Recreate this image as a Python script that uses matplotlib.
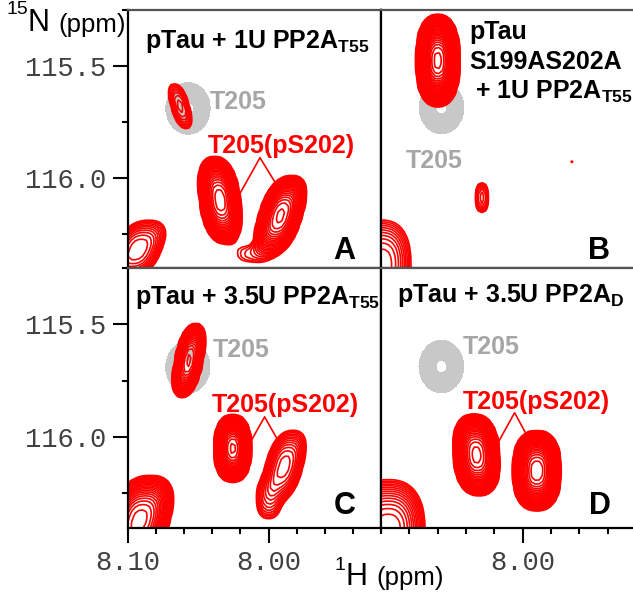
import numpy as np
import matplotlib.pyplot as plt

plt.rcParams['font.family'] = ['Liberation Sans', 'DejaVu Sans']
plt.rcParams['mathtext.fontset'] = 'custom'
plt.rcParams['mathtext.rm'] = 'Liberation Sans'
plt.rcParams['mathtext.bf'] = 'Liberation Sans:bold'

## peaks: 1H ppm, 15N ppm, outer half-width H, outer half-width N, intensity (x lowest level), slant dH/dN
a_h = [8.063, 8.0348, 7.992, 8.093, 8.012]
a_n = [115.68, 116.10, 116.17, 116.32, 116.34]
a_wh = [0.0065, 0.0145, 0.0156, 0.017, 0.010]
a_wn = [0.10, 0.195, 0.18, 0.13, 0.035]
a_amp = [4, 60, 40, 6, 1.5]
a_sl = [-0.042, -0.02, 0.045, 0.06, 0.0]

b_h = [8.060, 8.029, 7.966, 8.100]
b_n = [115.48, 116.09, 115.93, 116.39]
b_wh = [0.0152, 0.0045, 0.001, 0.021]
b_wn = [0.205, 0.066, 0.005, 0.2]
b_amp = [300, 3, 1.3, 6]
b_sl = [0.0, 0.0, 0.0, 0.0]

c_h = [8.0567, 8.0255, 7.989, 8.000, 8.092]
c_n = [115.66, 116.05, 116.13, 116.28, 116.37]
c_wh = [0.0099, 0.013, 0.0135, 0.008, 0.022]
c_wn = [0.164, 0.15, 0.16, 0.08, 0.2]
c_amp = [40, 150, 8, 2.5, 30]
c_sl = [0.03, 0.0, 0.04, 0.0, 0.04]

d_h = [8.0326, 7.990, 8.095]
d_n = [116.08, 116.15, 116.42]
d_wh = [0.0163, 0.017, 0.026]
d_wn = [0.18, 0.177, 0.23]
d_amp = [80, 100, 12]
d_sl = [-0.01, 0.0, 0.0]

# unphosphorylated T205 reference (grey)
ref_h = [8.0574]
ref_n = [115.69]
ref_wh = [0.0155]
ref_wn = [0.115]
ref_amp = [30]

titles = [r'pTau + 1U PP2A$_\mathbf{T55}$', '', r'pTau + 3.5U PP2A$_\mathbf{T55}$',
          r'pTau + 3.5U PP2A$_\mathbf{D}$']
letters = ['A', 'B', 'C', 'D']

H = np.linspace(8.11, 7.91, 80)
N = np.linspace(115.2, 116.45, 90)
HH, NN = np.meshgrid(H, N)


def spectrum(hs, ns, whs, wns, amps, sls=None, p=2.5):
    # superellipse-shaped peaks, lowest level (1) traces the outer outline
    if sls is None:
        sls = [0.0] * len(hs)
    z = np.zeros_like(HH)
    for h0, n0, wh, wn, a, s in zip(hs, ns, whs, wns, amps, sls):
        u = np.abs((HH - h0 - s * (NN - n0)) / wh)
        v = np.abs((NN - n0) / wn)
        z += a * np.exp(-np.log(a) * (u ** p + v ** p))
    return z


levels = 1.0 * 1.18 ** np.arange(50)
W, Hh = 633, 592
fig = plt.figure(figsize=(6.33, 5.92), dpi=100)


def box(x0, y0, x1, y1):
    return [x0 / W, 1 - y1 / Hh, (x1 - x0) / W, (y1 - y0) / Hh]


axA = fig.add_axes(box(128, 10, 381, 268))
axB = fig.add_axes(box(381, 10, 636, 268))
axC = fig.add_axes(box(128, 268, 381, 528))
axD = fig.add_axes(box(381, 268, 636, 528))
axes = [axA, axB, axC, axD]
reds = [(a_h, a_n, a_wh, a_wn, a_amp, a_sl), (b_h, b_n, b_wh, b_wn, b_amp, b_sl),
        (c_h, c_n, c_wh, c_wn, c_amp, c_sl), (d_h, d_n, d_wh, d_wn, d_amp, d_sl)]

zg = spectrum(ref_h, ref_n, ref_wh, ref_wn, ref_amp, p=2.0)
for i, ax in enumerate(axes):
    ax.contourf(HH, NN, zg, levels=[1, 0.8 * ref_amp[0]], colors='#c8c8c8', zorder=1)
    ax.contour(HH, NN, spectrum(*reds[i]), levels=levels, colors='#ff0000',
               linewidths=1.2, zorder=2)
    ax.set_xlim(8.10, 7.9206)
    ax.set_ylim(116.403, 115.255)
    for s in ax.spines.values():
        s.set_linewidth(1.6)
        s.set_color('black')
    ax.spines['top'].set_color('#555555')
    ax.tick_params(which='both', direction='out', width=1.5, colors='black',
                   labelcolor='#404040', labelsize=19.5, pad=5)
    ax.tick_params(which='major', length=11)
    ax.tick_params(which='minor', length=4)
    ax.set_xticks([])
    ax.set_yticks([])
    ax.text(0.9, 0.035 if i < 2 else 0.055, letters[i], transform=ax.transAxes,
            ha='right', va='baseline', fontsize=22, fontweight='bold')
    if titles[i]:
        ax.text(0.067 if i == 0 else (0.028 if i == 2 else 0.063),
                0.876 if i == 0 else (0.888 if i == 2 else 0.896), titles[i],
                transform=ax.transAxes, ha='left', va='center', fontsize=18,
                fontweight='bold')
axB.spines['right'].set_visible(False)
axD.spines['right'].set_visible(False)

axB.text(0.348, 0.915, 'pTau', transform=axB.transAxes, ha='left', va='center',
         fontsize=18, fontweight='bold')
axB.text(0.348, 0.798, 'S199AS202A', transform=axB.transAxes, ha='left', va='center',
         fontsize=18, fontweight='bold')
axB.text(0.37, 0.682, r'+ 1U PP2A$_\mathbf{T55}$', transform=axB.transAxes, ha='left',
         va='center', fontsize=18, fontweight='bold')

# y ticks on left panels
for ax in (axA, axC):
    ax.set_yticks([115.5, 116.0])
    ax.set_yticklabels(['115.5', '116.0'], fontfamily='Liberation Mono')
    ax.set_yticks([115.25, 115.75, 116.25], minor=True)

# x ticks on bottom panels
axC.set_xticks([8.10, 8.00])
axC.set_xticklabels(['8.10', '8.00'], fontfamily='Liberation Mono')
axC.set_xticks([8.08, 8.06, 8.04, 8.02, 7.98, 7.96, 7.94, 7.92], minor=True)
axD.set_xticks([8.00])
axD.set_xticklabels(['8.00'], fontfamily='Liberation Mono')
axD.set_xticks([8.10, 8.08, 8.06, 8.04, 8.02, 7.98, 7.96, 7.94, 7.92], minor=True)

# peak labels
grey = '#a6a6a6'
red = '#ff0000'
axA.text(8.0418, 115.66, 'T205', color=grey, fontsize=18, fontweight='bold', va='center')
axA.text(8.0433, 115.86, 'T205(pS202)', color=red, fontsize=18, fontweight='bold', va='center')
axA.plot([8.0206, 8.0064, 7.9943], [116.07, 115.91, 116.035], color=red, lw=1.2)

axB.text(8.0624, 115.925, 'T205', color=grey, fontsize=18, fontweight='bold',
         va='center', ha='center')

axC.text(8.0397, 115.615, 'T205', color=grey, fontsize=18, fontweight='bold', va='center')
axC.text(8.0404, 115.858, 'T205(pS202)', color=red, fontsize=18, fontweight='bold', va='center')
axC.plot([8.0121, 8.0028, 7.9922], [116.013, 115.91, 116.027], color=red, lw=1.2)

axD.text(8.0426, 115.606, 'T205', color=grey, fontsize=18, fontweight='bold', va='center')
axD.text(8.0426, 115.845, 'T205(pS202)', color=red, fontsize=18, fontweight='bold', va='center')
axD.plot([8.017, 8.0057, 7.9965], [116.022, 115.894, 116.0], color=red, lw=1.2)

# axis titles
fig.text(7 / W, 1 - 10 / Hh, '15', fontsize=14, ha='left', va='center')
fig.text(28 / W, 1 - 23 / Hh, 'N', fontsize=22, ha='left', va='center')
fig.text(58 / W, 1 - 25 / Hh, '(ppm)', fontsize=18.5, ha='left', va='center')
fig.text(334 / W, 1 - 566 / Hh, '1', fontsize=14, ha='left', va='center')
fig.text(345 / W, 1 - 577 / Hh, 'H', fontsize=22, ha='left', va='center')
fig.text(376 / W, 1 - 578 / Hh, '(ppm)', fontsize=18.5, ha='left', va='center')

fig.savefig('out.png', dpi=100)
